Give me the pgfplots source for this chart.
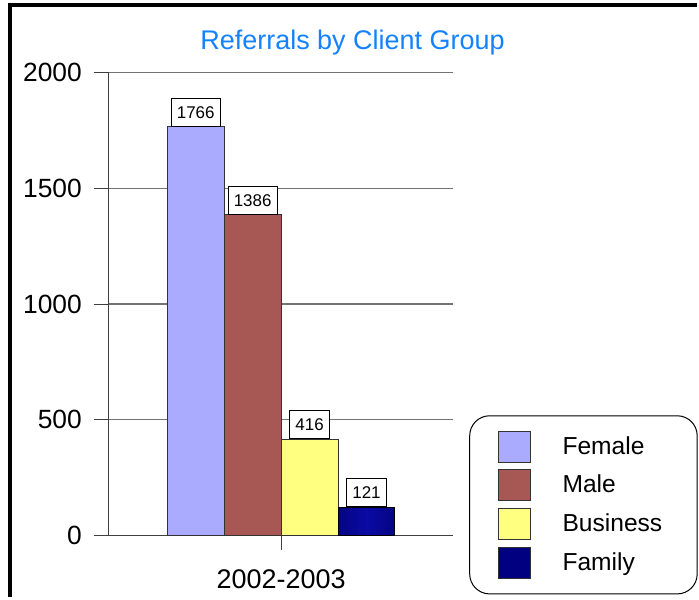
\documentclass[border=0pt]{standalone}
\usepackage{fontspec}
\setmainfont{Liberation Sans}
\usepackage{pgfplots}
\pgfplotsset{compat=1.18}
\definecolor{cfemale}{RGB}{170,170,255}
\definecolor{cmale}{RGB}{168,88,84}
\definecolor{cbus}{RGB}{255,255,128}
\definecolor{cfam}{RGB}{0,0,128}
\definecolor{cfamd}{RGB}{0,0,95}
\definecolor{cfaml}{RGB}{10,10,165}
\definecolor{ctitle}{RGB}{20,130,255}
\pgfdeclarehorizontalshading{famshade}{100bp}{color(0bp)=(cfamd); color(50bp)=(cfaml); color(100bp)=(cfamd)}
\pgfplotsset{
  legsq/.style={legend image code/.code={\draw[##1,draw=black!80,line width=0.5pt,sharp corners] (0pt,-7.75pt) rectangle (16pt,7.75pt);}},
}
\begin{document}
\begin{tikzpicture}
\path (0pt,0pt) rectangle (349.5pt,299pt);
\draw[line width=2pt] (5.25pt,0pt) -- (5.25pt,296.5pt);
\draw[line width=2pt] (4.25pt,296.5pt) -- (349pt,296.5pt);
\node[font=\fontsize{13.5}{16}\selectfont, text=ctitle] at (176.5pt,277.5pt) {Referrals by Client Group};
\begin{axis}[
  at={(54.5pt,31pt)}, anchor=south west,
  scale only axis, width=172.5pt, height=231.5pt,
  xmin=-1, xmax=1, ymin=0, ymax=2000,
  ybar=0pt, bar width=28.5pt,
  axis x line=bottom, axis y line=left,
  axis line style={-, black!75, line width=0.5pt},
  ytick={0,500,1000,1500,2000},
  xtick={0}, xticklabels={2002-2003},
  ymajorgrids, major grid style={black!55, line width=0.6pt},
  tick align=outside, major tick length=7.5pt,
  tick style={black!75, line width=0.5pt},
  yticklabel style={font=\fontsize{13.2}{15}\selectfont, xshift=-2.5pt},
  xticklabel style={font=\fontsize{13.5}{15}\selectfont, yshift=-6pt},
  /pgf/number format/1000 sep={},
  /pgf/number format/assume math mode=true,
  clip=false,
  nodes near coords,
  nodes near coords style={draw=black, fill=white, font=\fontsize{8.5}{10}\selectfont, inner xsep=2.8pt, inner ysep=0pt, minimum height=14pt, anchor=south, line width=0.5pt, text=black},
  legend style={at={(axis description cs:1.046,-0.128)}, anchor=south west, draw=black, line width=0.5pt, rounded corners=10pt, font=\fontsize{12.3}{14}\selectfont, inner xsep=14pt, inner ysep=7.5pt, row sep=3.4pt, column sep=16pt, nodes={inner sep=0pt}},
  legend cell align=left,
]
\addplot[fill=cfemale, draw=black!80, line width=0.5pt, legsq] coordinates {(0,1766)};
\addlegendentry{Female}
\addplot[fill=cmale, draw=black!80, line width=0.5pt, legsq] coordinates {(0,1386)};
\addlegendentry{Male}
\addplot[fill=cbus, draw=black!80, line width=0.5pt, legsq] coordinates {(0,416)};
\addlegendentry{Business\hspace*{3.5pt}}
\addplot[shading=famshade, draw=black, line width=0.5pt,
  legend image code/.code={\draw[shading=axis,left color=cfam,right color=cfam,draw=black!80,line width=0.5pt,sharp corners] (0pt,-7.75pt) rectangle (16pt,7.75pt);}] coordinates {(0,121)};
\addlegendentry{Family}
\end{axis}
\end{tikzpicture}
\end{document}
